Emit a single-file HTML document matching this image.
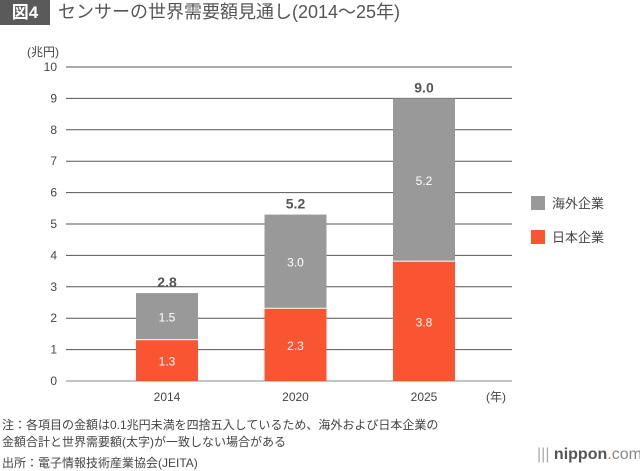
<!DOCTYPE html>
<html><head><meta charset="utf-8"><style>
body{margin:0;background:#fff;width:640px;height:469px;overflow:hidden;font-family:"Liberation Sans","Noto Sans CJK JP",sans-serif;color:#444}
.t{position:absolute;white-space:nowrap}
</style></head><body>
<div class="t" style="left:0;top:0;width:50px;height:25px;background:#5a5a5a;color:#fff;font-size:17px;line-height:25px;text-align:center;font-weight:bold">図4</div>
<div class="t" style="left:58px;top:1px;font-size:18px;line-height:23px;color:#555">センサーの世界需要額見通し(2014～25年)</div>
<svg id="c" width="640" height="469" style="position:absolute;left:0;top:0"></svg>
<div class="t" style="left:2px;top:416px;font-size:12px;color:#444">注：各項目の金額は0.1兆円未満を四捨五入しているため、海外および日本企業の</div>
<div class="t" style="left:2px;top:433px;font-size:12px;color:#444">金額合計と世界需要額(太字)が一致しない場合がある</div>
<div class="t" style="left:2px;top:454px;font-size:12px;color:#444">出所：電子情報技術産業協会(JEITA)</div>
<div class="t" style="left:537px;top:446px;font-size:16px;color:#555"><span style="color:#aaa">|||</span> <b>nippon</b><span style="color:#e63">.</span><span style="color:#888">com</span></div>
<script>
const categories=["2014","2020","2025"];
const overseas=[1.5,3.0,5.2];
const japan=[1.3,2.3,3.8];
const totals=[2.8,5.2,9.0];
const yTicks=[0,1,2,3,4,5,6,7,8,9,10];
const svg=document.getElementById('c');
const NS='http://www.w3.org/2000/svg';
const y0=381,yTop=67,xL=66,xR=512;
const y=v=>y0-(v/10)*(y0-yTop);
const xc=i=>167+i*128.5;
function mk(t,a,txt){const e=document.createElementNS(NS,t);for(const k in a)e.setAttribute(k,a[k]);if(txt!=null)e.textContent=txt;svg.appendChild(e);return e;}
yTicks.forEach(v=>{
 const l=mk('line',{x1:xL,x2:xR,y1:y(v),y2:y(v),stroke:v===0?'#888':'#555','stroke-width':1});
 
 
 const t=mk('text',{x:57,y:y(v)+4,'text-anchor':'end','font-size':12,fill:'#444'},String(v));
 
 
});
const u=mk('text',{x:27,y:56,'font-size':12,fill:'#444'},'(兆円)');


const w=62;
categories.forEach((c,i)=>{
 const x=xc(i)-w/2;
 const j=mk('rect',{x:x,y:y(japan[i]),width:w,height:y0-y(japan[i]),fill:'#fa5532'});
 
 
 const o=mk('rect',{x:x,y:y(japan[i]+overseas[i]),width:w,height:y(japan[i])-y(japan[i]+overseas[i])-1,fill:'#999'});
 
 
 const lj=mk('text',{x:xc(i),y:(y(japan[i])+y0)/2+5,'text-anchor':'middle','font-size':12,fill:'#fff'},japan[i].toFixed(1));
 
 
 const lo=mk('text',{x:xc(i),y:(y(japan[i])+y(japan[i]+overseas[i]))/2+5,'text-anchor':'middle','font-size':12,fill:'#fff'},overseas[i].toFixed(1));
 
 
 const lt=mk('text',{x:xc(i),y:y(japan[i]+overseas[i])-6,'text-anchor':'middle','font-size':14,'font-weight':'bold',fill:'#555'},totals[i].toFixed(1));
 
 
 const xl=mk('text',{x:xc(i),y:401,'text-anchor':'middle','font-size':12,fill:'#444'},c);
 
 
});
const yr=mk('text',{x:486,y:401,'font-size':12,fill:'#444'},'(年)');


[['#999','海外企業',203],['#fa5532','日本企業',237]].forEach((L,k)=>{
 const r=mk('rect',{x:531,y:L[2]-7,width:14,height:14,fill:L[0]});
 
 
 const t=mk('text',{x:552,y:L[2]+5,'font-size':13,fill:'#444'},L[1]);
 
 
});
</script>
</body></html>
